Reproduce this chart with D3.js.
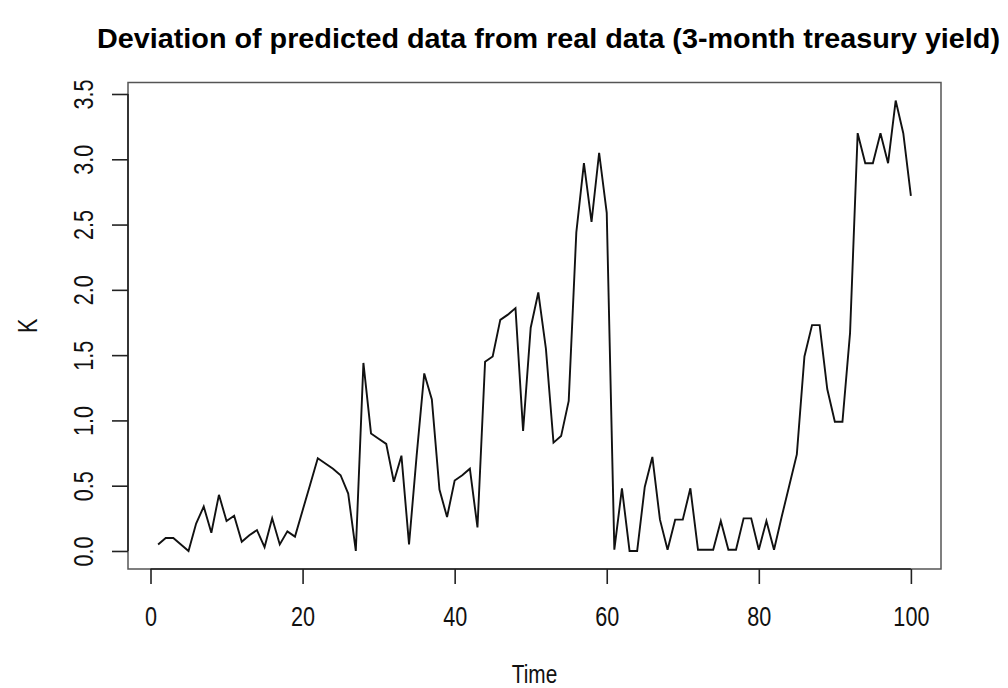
<!DOCTYPE html>
<html>
<head>
<meta charset="utf-8">
<script src="https://cdn.jsdelivr.net/npm/d3@7"></script>
<style>
  html, body { margin: 0; padding: 0; background: #fff; }
  svg { display: block; font-family: "Liberation Sans", Arial, Helvetica, sans-serif; }
</style>
</head>
<body>
<svg id="chart" width="1008" height="688"></svg>
<script>
// Deviation K of predicted vs. real 3-month treasury yield, per time step
const timeSteps = d3.range(1, 101);
const deviation = [
  0.05, 0.10, 0.10, 0.05, 0.00, 0.21, 0.34, 0.14, 0.43, 0.23,
  0.27, 0.07, 0.12, 0.16, 0.03, 0.25, 0.05, 0.15, 0.11, 0.31,
  0.51, 0.71, 0.67, 0.63, 0.58, 0.44, 0.00, 1.44, 0.90, 0.86,
  0.82, 0.53, 0.73, 0.05, 0.73, 1.36, 1.16, 0.47, 0.26, 0.54,
  0.58, 0.63, 0.18, 1.45, 1.49, 1.77, 1.81, 1.86, 0.92, 1.71,
  1.98, 1.55, 0.83, 0.88, 1.15, 2.44, 2.97, 2.52, 3.05, 2.59,
  0.01, 0.48, 0.00, 0.00, 0.49, 0.72, 0.24, 0.01, 0.24, 0.24,
  0.48, 0.01, 0.01, 0.01, 0.23, 0.01, 0.01, 0.25, 0.25, 0.01,
  0.23, 0.01, 0.26, 0.50, 0.74, 1.49, 1.73, 1.73, 1.24, 0.99,
  0.99, 1.67, 3.20, 2.97, 2.97, 3.20, 2.97, 3.45, 3.20, 2.72
];
const xTicks = [0, 20, 40, 60, 80, 100];
const yTicks = [0, 0.5, 1, 1.5, 2, 2.5, 3, 3.5];
const titleText = "Deviation of predicted data from real data (3-month treasury yield)";
const xLabel = "Time";
const yLabel = "K";

const svg = d3.select("#chart");
const box = { left: 128, right: 941, top: 82.5, bottom: 569 };

// pad each data range by 4% on both ends
function padded(ext) {
  const r = ext[1] - ext[0];
  return [ext[0] - 0.04 * r, ext[1] + 0.04 * r];
}

const x = d3.scaleLinear().domain(padded(d3.extent(timeSteps))).range([box.left, box.right]);
const y = d3.scaleLinear().domain(padded(d3.extent(deviation))).range([box.bottom, box.top]);

// condensed text: shrink glyphs horizontally by a factor
function condense(sel, factor) {
  sel.each(function () {
    const len = this.getComputedTextLength();
    d3.select(this).attr("textLength", len * factor).attr("lengthAdjust", "spacingAndGlyphs");
  });
}

// series line
const line = d3.line().x((d, i) => x(timeSteps[i])).y(d => y(d));
svg.append("path")
  .datum(deviation)
  .attr("d", line)
  .attr("fill", "none")
  .attr("stroke", "#111")
  .attr("stroke-width", 1.9)
  .attr("stroke-linejoin", "miter");

// plot frame
svg.append("rect")
  .attr("x", box.left).attr("y", box.top)
  .attr("width", box.right - box.left).attr("height", box.bottom - box.top)
  .attr("fill", "none").attr("stroke", "#555").attr("stroke-width", 1.5);

// bottom axis
const gx = svg.append("g")
  .attr("transform", `translate(0,${box.bottom})`)
  .call(d3.axisBottom(x).tickValues(xTicks).tickSize(15).tickSizeOuter(0).tickFormat(d3.format("d")));
gx.select(".domain").remove();
gx.append("line")
  .attr("x1", x(xTicks[0])).attr("x2", x(xTicks[xTicks.length - 1]))
  .attr("stroke", "#222").attr("stroke-width", 1.6);
gx.selectAll(".tick line").attr("stroke", "#222").attr("stroke-width", 1.6);
gx.selectAll(".tick text")
  .attr("y", 57).attr("dy", 0)
  .attr("fill", "#111")
  .style("font-size", "27px")
  .style("font-family", "'Liberation Sans', Arial, sans-serif")
  .call(condense, 0.8);

// left axis
const gy = svg.append("g")
  .attr("transform", `translate(${box.left},0)`)
  .call(d3.axisLeft(y).tickValues(yTicks).tickSize(16).tickSizeOuter(0).tickFormat(d3.format(".1f")));
gy.select(".domain").remove();
gy.append("line")
  .attr("y1", y(yTicks[0])).attr("y2", y(yTicks[yTicks.length - 1]))
  .attr("stroke", "#222").attr("stroke-width", 1.6);
gy.selectAll(".tick line").attr("stroke", "#222").attr("stroke-width", 1.6);
gy.selectAll(".tick text")
  .attr("x", 0).attr("dy", 0)
  .attr("text-anchor", "middle")
  .attr("transform", "translate(-35,0) rotate(-90)")
  .attr("fill", "#111")
  .style("font-size", "27px")
  .style("font-family", "'Liberation Sans', Arial, sans-serif")
  .call(condense, 0.8);

// title
svg.append("text")
  .attr("x", 548.5).attr("y", 48)
  .attr("text-anchor", "middle")
  .attr("font-weight", "bold")
  .attr("font-size", 28)
  .attr("fill", "#000")
  .text(titleText)
  .attr("textLength", 903)
  .attr("lengthAdjust", "spacingAndGlyphs");

// axis titles
svg.append("text")
  .attr("x", (box.left + box.right) / 2).attr("y", 683)
  .attr("text-anchor", "middle")
  .attr("font-size", 26)
  .attr("fill", "#111")
  .text(xLabel)
  .call(condense, 0.8);

svg.append("text")
  .attr("transform", `translate(37,${(box.top + box.bottom) / 2}) rotate(-90)`)
  .attr("text-anchor", "middle")
  .attr("font-size", 27)
  .attr("fill", "#111")
  .text(yLabel)
  .call(condense, 0.8);
</script>
</body>
</html>
